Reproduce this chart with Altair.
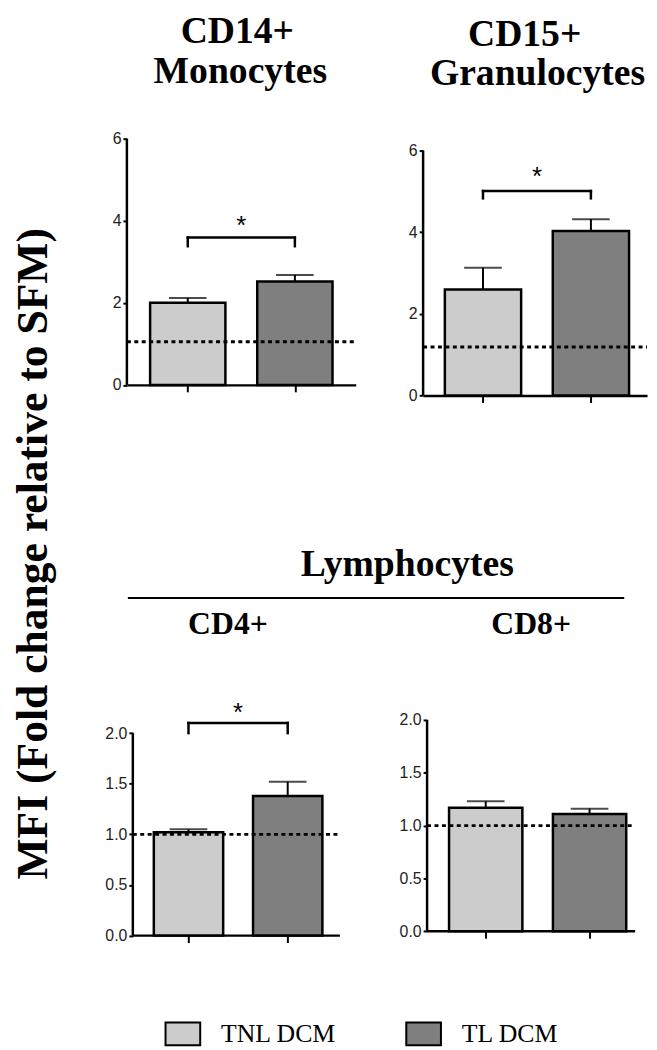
import altair as alt
import pandas as pd

# ---------------- data ----------------
groups = ["TNL DCM", "TL DCM"]
positions = [0, 1]
bar_colors = ["#cccccc", "#7f7f7f"]

cd14_means = [2.00, 2.52]
cd14_sems = [0.12, 0.16]
cd15_means = [2.60, 4.03]
cd15_sems = [0.53, 0.29]
cd4_means = [1.02, 1.38]
cd4_sems = [0.03, 0.14]
cd8_means = [1.17, 1.11]
cd8_sems = [0.06, 0.05]

reference_levels = [1.05, 1.19, 1.0, 1.0]  # dotted lines (SFM level)

# significance brackets: [bar level, foot level, star level]
cd14_bracket = [3.59, 3.38, 3.97]
cd15_bracket = [5.01, 4.83, 5.46]
cd4_bracket = [2.10, 2.00, 2.24]

ticks_top = [0, 2, 4, 6]
ticks_bottom = [0.0, 0.5, 1.0, 1.5, 2.0]

SERIF = "Liberation Serif"
SANS = "Liberation Sans"

legend = alt.Legend(
    orient="none", legendX=38, legendY=885, direction="horizontal",
    symbolType="M-1,-0.657H1V0.657H-1Z", symbolSize=1225,
    symbolStrokeColor="black", symbolStrokeWidth=2, symbolOpacity=1,
    labelFont=SERIF, labelFontSize=26, labelColor="black", labelOffset=20,
    columnPadding=66, padding=0,
)


def text_layer(txt, x, y, size, weight="bold", angle=0, font=SERIF):
    props = dict(font=font, fontSize=size, fontWeight=weight, color="black",
                 align="center", baseline="alphabetic")
    if angle:
        props["angle"] = angle
    return alt.Chart(pd.DataFrame({"t": [txt]})).mark_text(**props).encode(
        text="t:N", x=alt.value(x), y=alt.value(y))


def panel(means, sems, ref, ymax, ytop, ticks, fmt, xdom, W, H, barw, ax=0,
          bracket=None, extras=()):
    """ymax: scale top (may exceed top tick); ytop: top tick / axis end;
    ax: pixel position of the y axis inside the panel."""
    df = pd.DataFrame({
        "group": groups, "pos": positions, "mean": means,
        "top": [m + s for m, s in zip(means, sems)],
    })
    xs = alt.Scale(domain=xdom, nice=False, zero=False)
    ys = alt.Scale(domain=[0, ymax], nice=False, zero=True)
    xax = alt.Axis(values=positions, labels=False, tickSize=7, title=None,
                   domain=(ax == 0))
    yax = alt.Axis(values=ticks, format=fmt, tickSize=4, labelPadding=2, title=None,
                   domain=False, offset=-ax)

    def X(f):
        return alt.X(f, scale=xs, axis=xax, title=None)

    def Y(f):
        return alt.Y(f, scale=ys, axis=yax, title=None)

    base = alt.Chart(df)
    err = base.mark_rule(color="black", strokeWidth=2).encode(
        x=X("pos:Q"), y=Y("mean:Q"), y2="top:Q")
    bars = base.mark_bar(size=barw, stroke="black", strokeWidth=2.5).encode(
        x=X("pos:Q"), y=Y("mean:Q"),
        color=alt.Color("group:N", scale=alt.Scale(domain=groups, range=bar_colors),
                        legend=legend, title=None))
    caps = base.mark_tick(orient="horizontal", size=38, thickness=2, color="black").encode(
        x=X("pos:Q"), y=Y("top:Q"))
    dotted = alt.Chart(pd.DataFrame({"ref": [ref]})).mark_rule(
        strokeDash=[4, 3.5], strokeWidth=3, color="black").encode(
        x=alt.value(ax), x2=alt.value(W), y=Y("ref:Q"))
    yline = alt.Chart(pd.DataFrame({"a": [0], "b": [ytop]})).mark_rule(
        color="black", strokeWidth=2.5).encode(x=alt.value(ax), y=Y("a:Q"), y2="b:Q")
    layers = [err, bars, dotted, caps, yline]
    if ax:
        xline = alt.Chart(pd.DataFrame({"c": [0]})).mark_rule(
            color="black", strokeWidth=2.5).encode(
            x=alt.value(ax), x2=alt.value(W), y=Y("c:Q"))
        layers.append(xline)
    if bracket is not None:
        top, foot, star = bracket
        bdf = pd.DataFrame({"bx": [0, 0, 1], "bx2": [1, 0, 1],
                            "by": [top, foot, foot], "by2": [top, top, top]})
        brk = alt.Chart(bdf).mark_rule(color="black", strokeWidth=2.5, strokeCap="square").encode(
            x=X("bx:Q"), x2="bx2:Q", y=Y("by:Q"), y2="by2:Q")
        st = alt.Chart(pd.DataFrame({"sx": [0.5], "sy": [star], "s": ["*"]})).mark_text(
            font=SANS, fontSize=26, color="black", dy=12, baseline="alphabetic").encode(
            x=X("sx:Q"), y=Y("sy:Q"), text="s:N")
        layers += [brk, st]
    layers += list(extras)
    return alt.layer(*layers).properties(width=W, height=H)


tl = panel(cd14_means, cd14_sems, reference_levels[0], 6, 6, ticks_top, "d",
           [-0.522, 1.522], 231, 248.5, 76, 0, cd14_bracket,
           extras=[text_layer("CD14+", 111.5, -97, 38),
                   text_layer("Monocytes", 114.5, -56, 38),
                   text_layer("MFI (Fold change relative to SFM)", -81, 419, 44, angle=270)])

tr = panel(cd15_means, cd15_sems, reference_levels[1], 6.291, 6, ticks_top, "d",
           [-0.509, 1.474], 226, 259.3, 77, 0, cd15_bracket,
           extras=[text_layer("CD15+", 102.5, -94, 38),
                   text_layer("Granulocytes", 115.5, -54, 38)])

header_line = alt.Chart(pd.DataFrame({"k": [0]})).mark_rule(
    color="black", strokeWidth=2).encode(
    x=alt.value(1), x2=alt.value(502), y=alt.value(-123))

bl = panel(cd4_means, cd4_sems, reference_levels[2], 2.130, 2.0, ticks_bottom, ".1f",
           [-0.571, 1.476], 215, 217.7, 70, 6, cd4_bracket,
           extras=[text_layer("Lymphocytes", 283, -145, 38),
                   header_line,
                   text_layer("CD4+", 102, -87, 32)])

br = panel(cd8_means, cd8_sems, reference_levels[3], 2.0, 2.0, ticks_bottom, ".1f",
           [-0.555, 1.391], 214, 213.3, 74, 4, None,
           extras=[text_layer("CD8+", 109, -87, 32)])

chart = alt.concat(
    tl, tr, bl, br, columns=2, bounds="flush", align="each",
    spacing={"row": 326.7, "column": 68},
).properties(
    padding={"left": 3, "top": 0, "right": 0, "bottom": 5}
).configure_view(strokeWidth=0).configure_axis(
    grid=False, domainColor="black", tickColor="black", domainWidth=2.5, tickWidth=2,
    labelFont=SANS, labelFontSize=16, labelColor="#222222",
)

chart.save("out.html", embed_options={"renderer": "svg", "actions": False})
